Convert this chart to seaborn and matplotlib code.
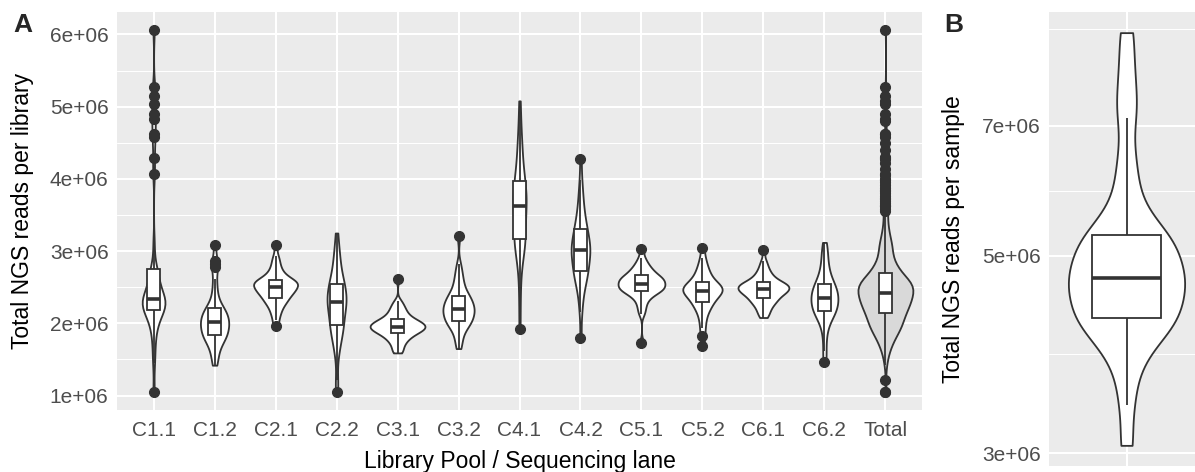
import numpy as np
import pandas as pd
import matplotlib
matplotlib.use("Agg")
import matplotlib.pyplot as plt
import seaborn as sns
from matplotlib.ticker import FixedLocator, NullFormatter

# ---------------- data (reads, in millions) ----------------
lanes = ["C1.1", "C1.2", "C2.1", "C2.2", "C3.1", "C3.2",
         "C4.1", "C4.2", "C5.1", "C5.2", "C6.1", "C6.2"]
total_label = "Total"

c1_1 = [1.05, 1.45, 1.62, 1.78, 1.88, 1.96, 2.02, 2.07, 2.11, 2.14, 2.16, 2.17,
        2.19, 2.21, 2.23, 2.25, 2.27, 2.28, 2.29, 2.30, 2.31, 2.32, 2.33, 2.33,
        2.34, 2.36, 2.39, 2.42, 2.46, 2.50, 2.54, 2.58, 2.62, 2.66, 2.70, 2.74,
        2.78, 3.10, 4.07, 4.29, 4.58, 4.62, 4.83, 4.90, 5.03, 5.15, 5.27, 6.06]
c1_2 = [1.42, 1.50, 1.58, 1.64, 1.69, 1.73, 1.76, 1.79, 1.81, 1.82,
        1.84, 1.86, 1.88, 1.90, 1.92, 1.94, 1.96, 1.98, 2.00, 2.01,
        2.02, 2.04, 2.06, 2.08, 2.10, 2.12, 2.14, 2.16, 2.18, 2.20,
        2.22, 2.26, 2.32, 2.40, 2.50, 2.62, 2.78, 2.82, 2.86, 3.09]
c2_1 = [1.96, 2.05, 2.12, 2.17, 2.21, 2.25, 2.28, 2.30, 2.32, 2.34,
        2.36, 2.38, 2.40, 2.42, 2.43, 2.44, 2.45, 2.46, 2.48, 2.49,
        2.51, 2.52, 2.53, 2.54, 2.55, 2.56, 2.57, 2.58, 2.58, 2.59,
        2.61, 2.63, 2.65, 2.68, 2.71, 2.75, 2.80, 2.86, 2.93, 3.09]
c2_2 = [1.05, 1.22, 1.55, 1.65, 1.73, 1.80, 1.85, 1.89, 1.92, 1.95,
        1.98, 2.02, 2.06, 2.10, 2.14, 2.18, 2.21, 2.24, 2.26, 2.28,
        2.30, 2.32, 2.34, 2.37, 2.40, 2.43, 2.46, 2.49, 2.52, 2.54,
        2.56, 2.60, 2.65, 2.70, 2.76, 2.83, 2.90, 2.98, 3.08, 3.25]
c3_1 = [1.59, 1.63, 1.68, 1.72, 1.75, 1.78, 1.80, 1.82, 1.84, 1.85,
        1.87, 1.88, 1.89, 1.90, 1.91, 1.92, 1.93, 1.94, 1.95, 1.95,
        1.96, 1.97, 1.98, 1.99, 2.00, 2.01, 2.02, 2.03, 2.04, 2.05,
        2.07, 2.09, 2.11, 2.13, 2.16, 2.19, 2.22, 2.26, 2.31, 2.62]
c3_2 = [1.65, 1.73, 1.80, 1.86, 1.91, 1.95, 1.98, 2.00, 2.01, 2.02,
        2.04, 2.06, 2.08, 2.10, 2.12, 2.14, 2.16, 2.17, 2.18, 2.19,
        2.21, 2.22, 2.24, 2.26, 2.28, 2.30, 2.32, 2.34, 2.35, 2.37,
        2.39, 2.42, 2.46, 2.50, 2.55, 2.60, 2.66, 2.73, 2.82, 3.21]
c4_1 = [1.92, 2.30, 2.60, 2.80, 2.92, 3.00, 3.05, 3.09, 3.12, 3.14,
        3.17, 3.21, 3.26, 3.31, 3.36, 3.42, 3.48, 3.53, 3.58, 3.62,
        3.64, 3.67, 3.70, 3.73, 3.76, 3.80, 3.84, 3.88, 3.92, 3.96,
        4.00, 4.06, 4.14, 4.22, 4.30, 4.40, 4.50, 4.62, 4.80, 5.08]
c4_2 = [1.79, 2.15, 2.30, 2.42, 2.50, 2.56, 2.61, 2.65, 2.68, 2.70,
        2.73, 2.76, 2.80, 2.84, 2.88, 2.91, 2.94, 2.97, 2.99, 3.00,
        3.02, 3.04, 3.07, 3.10, 3.13, 3.16, 3.19, 3.22, 3.26, 3.30,
        3.33, 3.37, 3.42, 3.48, 3.55, 3.63, 3.72, 3.83, 3.98, 4.28]
c5_1 = [1.73, 2.13, 2.20, 2.26, 2.31, 2.35, 2.38, 2.40, 2.42, 2.43,
        2.45, 2.46, 2.47, 2.48, 2.49, 2.50, 2.51, 2.52, 2.53, 2.54,
        2.56, 2.57, 2.58, 2.59, 2.60, 2.61, 2.62, 2.63, 2.64, 2.66,
        2.67, 2.69, 2.71, 2.73, 2.75, 2.78, 2.81, 2.85, 2.91, 3.03]
c5_2 = [1.69, 1.83, 1.93, 2.02, 2.09, 2.15, 2.19, 2.22, 2.25, 2.28,
        2.30, 2.32, 2.34, 2.36, 2.38, 2.40, 2.41, 2.42, 2.43, 2.44,
        2.46, 2.47, 2.48, 2.49, 2.50, 2.51, 2.52, 2.53, 2.55, 2.57,
        2.59, 2.61, 2.64, 2.67, 2.70, 2.74, 2.78, 2.84, 2.91, 3.04]
c6_1 = [2.08, 2.13, 2.17, 2.21, 2.24, 2.27, 2.29, 2.31, 2.33, 2.34,
        2.36, 2.38, 2.40, 2.41, 2.42, 2.43, 2.44, 2.45, 2.46, 2.47,
        2.48, 2.49, 2.50, 2.51, 2.52, 2.53, 2.54, 2.54, 2.55, 2.56,
        2.58, 2.60, 2.62, 2.64, 2.67, 2.70, 2.74, 2.79, 2.86, 3.02]
c6_2 = [1.47, 1.62, 1.78, 1.90, 1.98, 2.03, 2.07, 2.10, 2.13, 2.15,
        2.17, 2.19, 2.21, 2.23, 2.25, 2.27, 2.29, 2.31, 2.33, 2.34,
        2.36, 2.38, 2.40, 2.42, 2.44, 2.46, 2.48, 2.50, 2.52, 2.54,
        2.57, 2.60, 2.64, 2.68, 2.73, 2.79, 2.86, 2.94, 3.02, 3.12]

# reads per sample (panel B), millions
sample_reads = [3.06, 3.40, 3.66, 3.84, 3.96, 4.05, 4.12, 4.18, 4.22, 4.25,
                4.29, 4.35, 4.41, 4.47, 4.53, 4.59, 4.64, 4.68, 4.71,
                4.74, 4.80, 4.87, 4.94, 5.01, 5.08, 5.14, 5.20, 5.24,
                5.29, 5.40, 5.55, 5.78, 6.10, 6.50, 7.15, 7.55, 8.15, 8.91]

lane_values = [c1_1, c1_2, c2_1, c2_2, c3_1, c3_2, c4_1, c4_2, c5_1, c5_2, c6_1, c6_2]

# ---------------- frames ----------------
SCALE = 1e6
df_main = pd.DataFrame({
    "lane": np.concatenate([[ln] * len(v) for ln, v in zip(lanes, lane_values)]),
    "reads": np.concatenate([np.asarray(v) for v in lane_values]) * SCALE,
})
df_total = pd.DataFrame({"lane": total_label, "reads": df_main["reads"].to_numpy()})
df_all = pd.concat([df_main, df_total], ignore_index=True)
order = lanes + [total_label]
df_b = pd.DataFrame({"reads": np.asarray(sample_reads) * SCALE})


def bw_nrd0(kde):
    """R's bw.nrd0 expressed as a gaussian_kde factor."""
    x = np.asarray(kde.dataset).ravel()
    sd = np.std(x, ddof=1)
    q1, q3 = np.percentile(x, [25, 75])
    lo = min(sd, (q3 - q1) / 1.34)
    if lo <= 0:
        lo = sd
    return 0.9 * lo * len(x) ** -0.2 / sd


# ---------------- style ----------------
sns.set_theme(style="darkgrid")
plt.rcParams["font.family"] = ["Liberation Sans", "DejaVu Sans"]
BG = "#EBEBEB"
LINE = "#333333"
TICKTXT = "#4D4D4D"
LW = 1.3

fig = plt.figure(figsize=(11.95, 4.72), dpi=100)
fig.patch.set_facecolor("white")
axA = fig.add_axes([117 / 1195, 62 / 472, 805 / 1195, 398 / 472])
axB = fig.add_axes([1049 / 1195, 6 / 472, 155 / 1195, 454 / 472])

# ---------------- panel A ----------------
sns.violinplot(data=df_main, x="lane", y="reads", order=order, inner=None, cut=0,
               density_norm="area", width=0.9, color="white", linecolor=LINE,
               linewidth=LW, saturation=1, bw_method=bw_nrd0, bw_adjust=0.85, ax=axA)
sns.violinplot(data=df_total, x="lane", y="reads", order=order, inner=None, cut=0,
               density_norm="area", width=0.9, color="#D9D9D9", linecolor=LINE,
               linewidth=LW, saturation=1, bw_method=bw_nrd0, ax=axA)
sns.boxplot(data=df_all, x="lane", y="reads", order=order, width=0.2, color="white",
            linecolor=LINE, linewidth=LW, saturation=1, showcaps=False, fliersize=7,
            flierprops=dict(marker="o", markerfacecolor=LINE, markeredgecolor=LINE,
                            markersize=7),
            medianprops=dict(color=LINE, linewidth=2.6), ax=axA)

# ---------------- panel B ----------------
sns.violinplot(data=df_b, y="reads", inner=None, cut=0, width=0.9, color="white",
               linecolor=LINE, linewidth=LW, saturation=1, bw_method=bw_nrd0,
               bw_adjust=0.8, log_scale=True, ax=axB)
sns.boxplot(data=df_b, y="reads", width=0.54, color="white", linecolor=LINE,
            linewidth=LW, saturation=1, showcaps=False, showfliers=False,
            medianprops=dict(color=LINE, linewidth=2.6), log_scale=True, ax=axB)

# ---------------- axes styling ----------------
for ax in (axA, axB):
    ax.set_facecolor(BG)
    ax.set_axisbelow(True)
    for s in ax.spines.values():
        s.set_visible(False)
    ax.grid(False)
    ax.grid(True, which="major", color="white", linewidth=1.5)
    ax.grid(True, which="minor", axis="y", color="white", linewidth=0.75)
    ax.tick_params(axis="both", which="major", length=3.6, width=1.0, color=LINE,
                   labelcolor=TICKTXT, labelsize=15, pad=2.5)
    ax.tick_params(axis="both", which="minor", length=0)
axA.tick_params(axis="x", which="major", pad=4)

# panel A axes
allv = df_main["reads"]
lo, hi = allv.min(), allv.max()
pad = 0.05 * (hi - lo)
axA.set_ylim(lo - pad, hi + pad)
axA.set_xlim(-0.6, len(order) - 0.4)
yt = [1e6, 2e6, 3e6, 4e6, 5e6, 6e6]
axA.yaxis.set_major_locator(FixedLocator(yt))
axA.set_yticklabels([f"{int(v / 1e6)}e+06" for v in yt])
axA.yaxis.set_minor_locator(FixedLocator([1.5e6, 2.5e6, 3.5e6, 4.5e6, 5.5e6]))
axA.yaxis.set_minor_formatter(NullFormatter())
axA.set_xticks(range(len(order)))
axA.set_xticklabels(order)
axA.set_xlabel("Library Pool / Sequencing lane", fontsize=16.5, color="black")
axA.set_ylabel("Total NGS reads per library", fontsize=16.5, color="black")
axA.xaxis.set_label_coords(0.5, -0.10)
axA.yaxis.set_label_coords(-0.103, 0.5)

# panel B axes
lb = np.log10(df_b["reads"])
lpad = 0.05 * (lb.max() - lb.min())
axB.set_yscale("log")
axB.set_ylim(10 ** (lb.min() - lpad), 10 ** (lb.max() + lpad))
axB.set_xlim(-0.6, 0.6)
ybt = [3e6, 5e6, 7e6]
axB.yaxis.set_major_locator(FixedLocator(ybt))
axB.yaxis.set_minor_locator(FixedLocator([np.sqrt(15) * 1e6, np.sqrt(35) * 1e6, 9.0e6]))
axB.yaxis.set_minor_formatter(NullFormatter())
axB.set_yticklabels([f"{int(v / 1e6)}e+06" for v in ybt])
axB.set_xticks([0])
axB.set_xticklabels([""])
axB.tick_params(axis="x", length=0)
axB.set_xlabel("")
axB.set_ylabel("Total NGS reads per sample", fontsize=16.5, color="black")
axB.yaxis.set_label_coords(-0.54, 0.5)

fig.text(13 / 1195, 1 - 32 / 472, "A", fontsize=19, fontweight="bold", ha="left", va="baseline")
fig.text(944 / 1195, 1 - 32 / 472, "B", fontsize=19, fontweight="bold", ha="left", va="baseline")

fig.savefig("out.png", dpi=100, facecolor="white")
